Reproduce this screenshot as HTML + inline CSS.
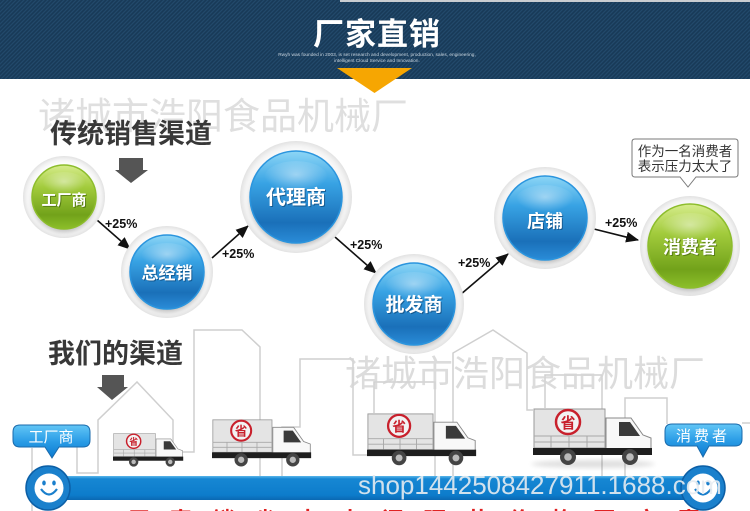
<!DOCTYPE html>
<html><head><meta charset="utf-8">
<style>
html,body{margin:0;padding:0;width:750px;height:511px;overflow:hidden;background:#fff;}
svg{display:block;font-family:"Liberation Sans","Noto Sans CJK SC",sans-serif;}
</style></head><body>
<svg width="750" height="511" viewBox="0 0 750 511" xmlns="http://www.w3.org/2000/svg">
<defs>
  <pattern id="stripes" patternUnits="userSpaceOnUse" width="4" height="4">
    <rect width="4" height="4" fill="#183a58"/>
    <path d="M-1 1 L1 -1 M0 4 L4 0 M3 5 L5 3" stroke="#22496b" stroke-width="1.2"/>
  </pattern>
  <radialGradient id="ring" cx="50%" cy="50%" r="50%">
    <stop offset="0" stop-color="#ffffff"/>
    <stop offset=".8" stop-color="#ffffff"/>
    <stop offset=".92" stop-color="#f2f2f2"/>
    <stop offset="1" stop-color="#e2e2e2"/>
  </radialGradient>
  <linearGradient id="blue" x1="0" y1="0" x2="0" y2="1">
    <stop offset="0" stop-color="#8dd6f6"/>
    <stop offset=".35" stop-color="#38a3e4"/>
    <stop offset=".78" stop-color="#1a70b9"/>
    <stop offset="1" stop-color="#2a8cd8"/>
  </linearGradient>
  <linearGradient id="green" x1="0" y1="0" x2="0" y2="1">
    <stop offset="0" stop-color="#d6ec8c"/>
    <stop offset=".35" stop-color="#a2cb3c"/>
    <stop offset=".78" stop-color="#72a21a"/>
    <stop offset="1" stop-color="#8cbf2a"/>
  </linearGradient>
  <radialGradient id="hl" cx="50%" cy="40%" r="50%">
    <stop offset="0" stop-color="#fff" stop-opacity=".45"/>
    <stop offset="1" stop-color="#fff" stop-opacity="0"/>
  </radialGradient>
  <filter id="blur" x="-30%" y="-30%" width="160%" height="160%"><feGaussianBlur stdDeviation="2.5"/></filter>
  <marker id="ah" viewBox="0 0 12 10" markerWidth="13" markerHeight="11" refX="11" refY="5" orient="auto" markerUnits="userSpaceOnUse">
    <path d="M0 0 L12 5 L0 10 Z" fill="#111"/>
  </marker>
  <linearGradient id="tag" x1="0" y1="0" x2="0" y2="1">
    <stop offset="0" stop-color="#62c6f6"/>
    <stop offset=".5" stop-color="#2a9ce6"/>
    <stop offset="1" stop-color="#0b79cf"/>
  </linearGradient>
  <linearGradient id="bar" x1="0" y1="0" x2="0" y2="1">
    <stop offset="0" stop-color="#5ab6ea"/>
    <stop offset=".12" stop-color="#1687d3"/>
    <stop offset=".8" stop-color="#0d7ccb"/>
    <stop offset="1" stop-color="#0a68b2"/>
  </linearGradient>
</defs>

<!-- header -->
<rect x="0" y="0" width="750" height="79" fill="url(#stripes)"/>
<rect x="340" y="0" width="410" height="2" fill="#c9cdd1"/>
<text x="377" y="45" font-size="31" font-weight="bold" fill="#fff" text-anchor="middle" letter-spacing="1">厂家直销</text>
<text x="377" y="56" font-size="4.8" fill="#c9d5df" text-anchor="middle">Rwyh was founded in 2003, is set research and development, production, sales, engineering,</text>
<text x="377" y="62" font-size="4.8" fill="#c9d5df" text-anchor="middle">intelligent Cloud Service and Innovation.</text>
<polygon points="337,68 412,68 374.5,93" fill="#f6a602"/>

<!-- watermark 1 -->
<text x="38" y="129" font-size="37" fill="#dfdfdf">诸城市浩阳食品机械厂</text>

<!-- section title 1 -->
<text x="50" y="143" font-size="27" font-weight="bold" fill="#383838">传统销售渠道</text>
<polygon points="119,158 143,158 143,170 148,170 131,183 115,170 119,170" fill="#555"/>

<!-- arrows -->
<g stroke="#111" stroke-width="1.6" fill="none" marker-end="url(#ah)">
  <line x1="97" y1="220" x2="130" y2="249"/>
  <line x1="212" y1="258" x2="248" y2="226"/>
  <line x1="335" y1="237" x2="376" y2="273"/>
  <line x1="460" y1="295" x2="508" y2="254"/>
  <line x1="594" y1="229" x2="638" y2="240"/>
</g>
<g font-size="12.5" font-weight="bold" fill="#111">
  <text x="105" y="228">+25%</text>
  <text x="222" y="258">+25%</text>
  <text x="350" y="249">+25%</text>
  <text x="458" y="267">+25%</text>
  <text x="605" y="227">+25%</text>
</g>

<!-- circles -->
<g>
  <circle cx="64" cy="197" r="41" fill="url(#ring)"/>
  <circle cx="64" cy="200" r="32" fill="#000" opacity=".25" filter="url(#blur)"/>
  <circle cx="64" cy="197" r="32" fill="url(#green)" stroke="#8dbd2c" stroke-width="1.5"/>
  <ellipse cx="64" cy="184" rx="22" ry="12" fill="url(#hl)"/>
  <text x="65" y="206" font-size="15" font-weight="bold" fill="#3b5a08" opacity=".6" text-anchor="middle">工厂商</text>
  <text x="64" y="205" font-size="15" font-weight="bold" fill="#fff" text-anchor="middle">工厂商</text>
</g>
<g>
  <circle cx="167" cy="272" r="46" fill="url(#ring)"/>
  <circle cx="167" cy="275" r="37" fill="#000" opacity=".25" filter="url(#blur)"/>
  <circle cx="167" cy="272" r="37" fill="url(#blue)" stroke="#2b95de" stroke-width="1.5"/>
  <ellipse cx="167" cy="257" rx="26" ry="14" fill="url(#hl)"/>
  <text x="168" y="280" font-size="17" font-weight="bold" fill="#0a3d6b" opacity=".6" text-anchor="middle">总经销</text>
  <text x="167" y="279" font-size="17" font-weight="bold" fill="#fff" text-anchor="middle">总经销</text>
</g>
<g>
  <circle cx="296" cy="197" r="56" fill="url(#ring)"/>
  <circle cx="296" cy="200" r="46" fill="#000" opacity=".25" filter="url(#blur)"/>
  <circle cx="296" cy="197" r="46" fill="url(#blue)" stroke="#2b95de" stroke-width="1.5"/>
  <ellipse cx="296" cy="178" rx="32" ry="17" fill="url(#hl)"/>
  <text x="297" y="205" font-size="20" font-weight="bold" fill="#0a3d6b" opacity=".6" text-anchor="middle">代理商</text>
  <text x="296" y="204" font-size="20" font-weight="bold" fill="#fff" text-anchor="middle">代理商</text>
</g>
<g>
  <circle cx="414" cy="304" r="50" fill="url(#ring)"/>
  <circle cx="414" cy="307" r="41" fill="#000" opacity=".25" filter="url(#blur)"/>
  <circle cx="414" cy="304" r="41" fill="url(#blue)" stroke="#2b95de" stroke-width="1.5"/>
  <ellipse cx="414" cy="287" rx="29" ry="15" fill="url(#hl)"/>
  <text x="415" y="312" font-size="19" font-weight="bold" fill="#0a3d6b" opacity=".6" text-anchor="middle">批发商</text>
  <text x="414" y="311" font-size="19" font-weight="bold" fill="#fff" text-anchor="middle">批发商</text>
</g>
<g>
  <circle cx="545" cy="218" r="51" fill="url(#ring)"/>
  <circle cx="545" cy="221" r="42" fill="#000" opacity=".25" filter="url(#blur)"/>
  <circle cx="545" cy="218" r="42" fill="url(#blue)" stroke="#2b95de" stroke-width="1.5"/>
  <ellipse cx="545" cy="200" rx="29" ry="15" fill="url(#hl)"/>
  <text x="546" y="228.5" font-size="18" font-weight="bold" fill="#0a3d6b" opacity=".6" text-anchor="middle">店铺</text>
  <text x="545" y="227.5" font-size="18" font-weight="bold" fill="#fff" text-anchor="middle">店铺</text>
</g>
<g>
  <circle cx="690" cy="246" r="50" fill="url(#ring)"/>
  <circle cx="690" cy="249" r="42" fill="#000" opacity=".25" filter="url(#blur)"/>
  <circle cx="690" cy="246" r="42" fill="url(#green)" stroke="#8dbd2c" stroke-width="1.5"/>
  <ellipse cx="690" cy="228" rx="29" ry="15" fill="url(#hl)"/>
  <text x="691" y="254.5" font-size="18" font-weight="bold" fill="#3b5a08" opacity=".6" text-anchor="middle">消费者</text>
  <text x="690" y="253.5" font-size="18" font-weight="bold" fill="#fff" text-anchor="middle">消费者</text>
</g>

<!-- speech bubble -->
<path d="M635 139 H735 Q738 139 738 142 V174 Q738 177 735 177 H696 L688 187 L680 177 H635 Q632 177 632 174 V142 Q632 139 635 139 Z" fill="#fff" stroke="#7a7a7a" stroke-width="1"/>
<text x="685" y="156" font-size="13.5" fill="#333" text-anchor="middle">作为一名消费者</text>
<text x="685" y="171" font-size="13.5" fill="#333" text-anchor="middle">表示压力太大了</text>

<!-- skyline lines -->
<g stroke="#cfcfcf" stroke-width="1.5" fill="none">
  <path d="M32 448 V511"/>
  <path d="M77 447 V473 H98 V420 L137 382 L173 420 V452 H194 V330 H242 L260 347 V476"/>
  <path d="M282 476 V427 H300 V359 H353 V455 H368"/>
  <path d="M374 413 V382 H435 V476"/>
  <path d="M453 476 V353 L493 330 L527 353 V410 H533"/>
  <path d="M545 408 V375 H602 V476"/>
  <path d="M625 476 V398 H667 V424"/>
  <path d="M742 423 H750"/>
</g>

<!-- watermark 2 -->
<text x="345" y="386" font-size="36" fill="#d6d6d6" opacity=".85">诸城市浩阳食品机械厂</text>

<!-- section title 2 -->
<text x="48" y="363" font-size="27" font-weight="bold" fill="#383838">我们的渠道</text>
<polygon points="102,375 124,375 124,387 128,387 112,400 97,387 102,387" fill="#555"/>

<!-- trucks -->
<g transform="translate(113,433) scale(0.59)">
  <rect x="1" y="1" width="71" height="39" fill="#e4e4e4" stroke="#9a9a9a"/>
  <path d="M1 28 H72 M1 34 H72 M18 28 V40 M36 28 V40 M54 28 V40" stroke="#a8a8a8"/>
  <circle cx="35" cy="14" r="12" fill="#f2f2f2" stroke="#c8202c" stroke-width="2.5"/>
  <text x="35" y="20" font-size="15" font-weight="bold" fill="#c8202c" text-anchor="middle">省</text>
  <path d="M73 10 H98 L110 27 L118 30 V46 H73 Z" fill="#f8f8f8" stroke="#888"/>
  <path d="M86 14 H97 L107 28 H86 Z" fill="#3a3a3a"/>
  <rect x="0" y="40" width="119" height="7" fill="#1e1e1e"/>
  <circle cx="35" cy="49" r="8" fill="#444"/><circle cx="35" cy="49" r="3.8" fill="#bbb"/>
  <circle cx="97" cy="49" r="8" fill="#444"/><circle cx="97" cy="49" r="3.8" fill="#bbb"/>
</g>
<g transform="translate(212,419) scale(0.833)">
  <rect x="1" y="1" width="71" height="39" fill="#e4e4e4" stroke="#9a9a9a"/>
  <path d="M1 28 H72 M1 34 H72 M18 28 V40 M36 28 V40 M54 28 V40" stroke="#a8a8a8"/>
  <circle cx="35" cy="14" r="12" fill="#f2f2f2" stroke="#c8202c" stroke-width="2.5"/>
  <text x="35" y="20" font-size="15" font-weight="bold" fill="#c8202c" text-anchor="middle">省</text>
  <path d="M73 10 H98 L110 27 L118 30 V46 H73 Z" fill="#f8f8f8" stroke="#888"/>
  <path d="M86 14 H97 L107 28 H86 Z" fill="#3a3a3a"/>
  <rect x="0" y="40" width="119" height="7" fill="#1e1e1e"/>
  <circle cx="35" cy="49" r="8" fill="#444"/><circle cx="35" cy="49" r="3.8" fill="#bbb"/>
  <circle cx="97" cy="49" r="8" fill="#444"/><circle cx="97" cy="49" r="3.8" fill="#bbb"/>
</g>
<g transform="translate(367,413) scale(0.917)">
  <rect x="1" y="1" width="71" height="39" fill="#e4e4e4" stroke="#9a9a9a"/>
  <path d="M1 28 H72 M1 34 H72 M18 28 V40 M36 28 V40 M54 28 V40" stroke="#a8a8a8"/>
  <circle cx="35" cy="14" r="12" fill="#f2f2f2" stroke="#c8202c" stroke-width="2.5"/>
  <text x="35" y="20" font-size="15" font-weight="bold" fill="#c8202c" text-anchor="middle">省</text>
  <path d="M73 10 H98 L110 27 L118 30 V46 H73 Z" fill="#f8f8f8" stroke="#888"/>
  <path d="M86 14 H97 L107 28 H86 Z" fill="#3a3a3a"/>
  <rect x="0" y="40" width="119" height="7" fill="#1e1e1e"/>
  <circle cx="35" cy="49" r="8" fill="#444"/><circle cx="35" cy="49" r="3.8" fill="#bbb"/>
  <circle cx="97" cy="49" r="8" fill="#444"/><circle cx="97" cy="49" r="3.8" fill="#bbb"/>
</g>
<g transform="translate(533,408)">
  <ellipse cx="60" cy="56" rx="62" ry="4" fill="#000" opacity=".12" filter="url(#blur)"/>
  <rect x="1" y="1" width="71" height="39" fill="#e4e4e4" stroke="#9a9a9a"/>
  <path d="M1 28 H72 M1 34 H72 M18 28 V40 M36 28 V40 M54 28 V40" stroke="#a8a8a8"/>
  <circle cx="35" cy="14" r="12" fill="#f2f2f2" stroke="#c8202c" stroke-width="2.5"/>
  <text x="35" y="20" font-size="15" font-weight="bold" fill="#c8202c" text-anchor="middle">省</text>
  <path d="M73 10 H98 L110 27 L118 30 V46 H73 Z" fill="#f8f8f8" stroke="#888"/>
  <path d="M86 14 H97 L107 28 H86 Z" fill="#3a3a3a"/>
  <rect x="0" y="40" width="119" height="7" fill="#1e1e1e"/>
  <circle cx="35" cy="49" r="8" fill="#444"/><circle cx="35" cy="49" r="3.8" fill="#bbb"/>
  <circle cx="97" cy="49" r="8" fill="#444"/><circle cx="97" cy="49" r="3.8" fill="#bbb"/>
</g>

<!-- bottom bar -->
<rect x="48" y="476" width="655" height="24" fill="url(#bar)"/>

<!-- smileys -->
<g>
  <circle cx="48" cy="488" r="22" fill="#1a80cc" stroke="#0c5fa6" stroke-width="1.5"/>
  <circle cx="49" cy="488" r="14.5" fill="#fff"/>
  <ellipse cx="44" cy="483" rx="1.8" ry="2.5" fill="#1a7fcc"/>
  <ellipse cx="54" cy="483" rx="1.8" ry="2.5" fill="#1a7fcc"/>
  <path d="M41 489 Q49 500 57 489" stroke="#1a7fcc" stroke-width="2.2" fill="none"/>
</g>
<g>
  <circle cx="703" cy="488" r="22" fill="#1a80cc" stroke="#0c5fa6" stroke-width="1.5"/>
  <circle cx="703" cy="488" r="14.5" fill="#fff"/>
  <ellipse cx="698" cy="483" rx="1.8" ry="2.5" fill="#1a7fcc"/>
  <ellipse cx="708" cy="483" rx="1.8" ry="2.5" fill="#1a7fcc"/>
  <path d="M695 489 Q703 500 711 489" stroke="#1a7fcc" stroke-width="2.2" fill="none"/>
</g>

<!-- tags -->
<path d="M20 425 H83 Q90 425 90 432 V440 Q90 447 83 447 H59 L52 458 L45 447 H20 Q13 447 13 440 V432 Q13 425 20 425 Z" fill="url(#tag)" stroke="#1a6aab" stroke-width="1"/>
<text x="51" y="442" font-size="15" fill="#fff" text-anchor="middle">工厂商</text>
<path d="M672 424 H735 Q742 424 742 431 V439 Q742 446 735 446 H709 L703 457 L697 446 H672 Q665 446 665 439 V431 Q665 424 672 424 Z" fill="url(#tag)" stroke="#1a6aab" stroke-width="1"/>
<text x="703" y="441" font-size="15" fill="#fff" text-anchor="middle" letter-spacing="3">消费者</text>

<!-- url watermark -->
<text x="358" y="494" font-size="26" fill="#e6ecf1" opacity=".9">shop1442508427911.1688.com</text>

<!-- bottom red text (cut off) -->
<text x="85" y="528" font-size="22" font-weight="bold" fill="#e02222" textLength="615" lengthAdjust="spacing">工厂直销省去中间环节价格更实惠</text>
</svg>
</body></html>
